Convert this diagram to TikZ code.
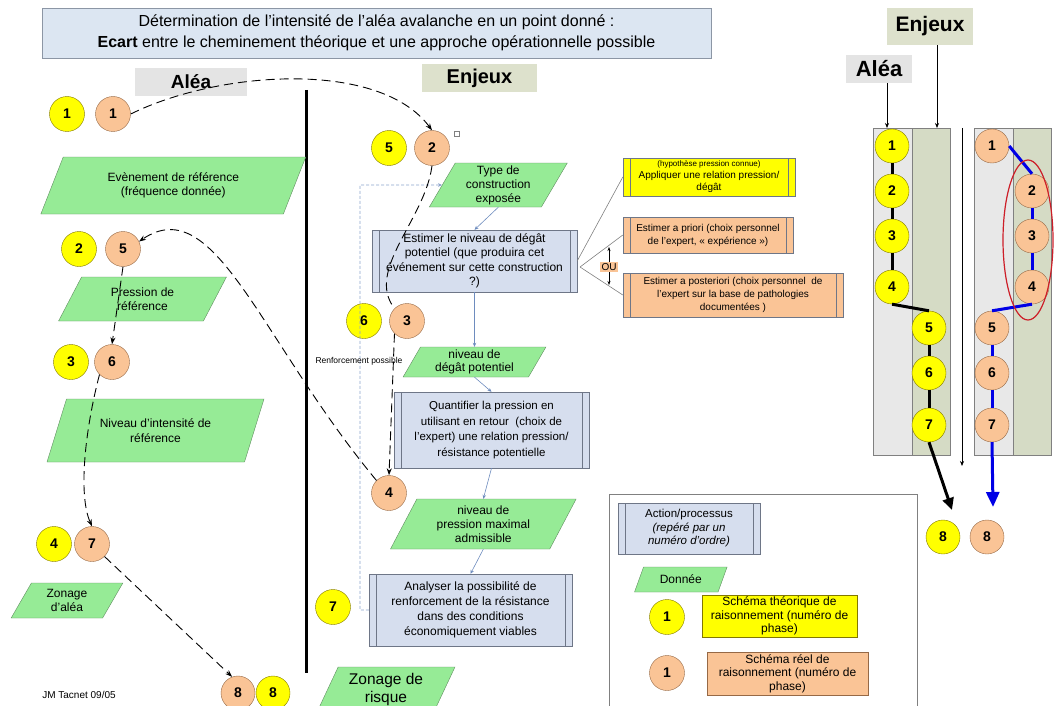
\documentclass[tikz,border=0pt]{standalone}
\usepackage{fontspec}
\setmainfont{Liberation Sans}
\usetikzlibrary{shapes.geometric,arrows.meta}

\definecolor{greenfill}{RGB}{150,235,150}
\definecolor{greenline}{RGB}{95,140,95}
\definecolor{procfill}{RGB}{214,222,238}
\definecolor{procline}{RGB}{110,118,135}
\definecolor{yel}{RGB}{255,255,0}
\definecolor{yelline}{RGB}{130,120,0}
\definecolor{org}{RGB}{250,196,150}
\definecolor{orgline}{RGB}{150,105,70}
\definecolor{titlefill}{RGB}{220,230,242}
\definecolor{titleline}{RGB}{140,150,165}
\definecolor{aleafill}{RGB}{228,228,228}
\definecolor{enjfill}{RGB}{221,225,204}
\definecolor{panL}{RGB}{232,232,232}
\definecolor{panR}{RGB}{213,219,197}
\definecolor{flowblue}{RGB}{110,140,190}
\definecolor{redell}{RGB}{205,30,40}
\definecolor{bleu}{RGB}{0,0,230}

\tikzset{
 titre/.style={draw=titleline, fill=titlefill, minimum width=669, minimum height=50,
   align=center, font=\fontsize{16}{21}\selectfont},
 label/.style={font=\bfseries\fontsize{19}{19}\selectfont, inner sep=0pt},
 donnee/.style={trapezium, trapezium left angle=64, trapezium right angle=116,
   trapezium stretches=true, draw=greenline, fill=greenfill, align=center,
   inner sep=1pt, font=\fontsize{12}{14.5}\selectfont},
 action/.style={rectangle, draw=procline, fill=procfill, align=center, inner sep=1pt,
   font=\fontsize{12}{15}\selectfont,
   path picture={\draw[procline]
     ([xshift=7pt]path picture bounding box.north west) -- ([xshift=7pt]path picture bounding box.south west)
     ([xshift=-7pt]path picture bounding box.north east) -- ([xshift=-7pt]path picture bounding box.south east);}},
 ycirc/.style={circle, draw=yelline, fill=yel, minimum size=35, inner sep=0pt,
   font=\bfseries\fontsize{14}{14}\selectfont},
 ocirc/.style={circle, draw=orgline, fill=org, minimum size=35, inner sep=0pt,
   font=\bfseries\fontsize{14}{14}\selectfont},
 dcurve/.style={line width=0.9pt, dash pattern=on 9pt off 5pt},
 dtip/.style={-{Stealth[length=7pt,width=5pt]}},
 flow/.style={flowblue, line width=0.6pt, -{Stealth[length=4pt,width=3.5pt]}},
 fanline/.style={gray, line width=0.6pt},
 thinarr/.style={line width=0.6pt, -{Stealth[length=5pt,width=4pt]}},
 chain/.style={line width=3pt},
}

\begin{document}
\begin{tikzpicture}[x=1pt,y=-1pt]
\useasboundingbox (0,0) rectangle (1054,706);

\node[titre] (titre) at (376.5,33) {D\'etermination de l'intensit\'e de l'al\'ea avalanche en un point donn\'e :\\\textbf{Ecart} entre le cheminement th\'eorique et une approche op\'erationnelle possible};

\node[label, fill=aleafill, minimum width=112, minimum height=28] (aleaL) at (191,82) {Aléa};
\node[label, fill=enjfill, minimum width=115, minimum height=28, font=\bfseries\fontsize{20}{20}\selectfont] (enjL) at (479.5,78) {Enjeux};

% separation Aléa / Enjeux
\coordinate (sepT) at (306,90);
\coordinate (sepB) at (306,673);
\draw[line width=3pt] (sepT) -- (sepB);

% colonne aléa
\node[ycirc] (y1) at (67,114) {1};
\node[ocirc] (o1) at (113,114) {1};
\node[donnee, minimum width=265, minimum height=57] (evt) at (173.3,185.5) {Evènement de référence\\(fréquence donnée)};
\node[ycirc] (y2) at (79,249) {2};
\node[ocirc] (o5) at (123,249) {5};
\node[donnee, minimum width=168, minimum height=44] (pres) at (142.5,299) {Pression de\\référence};
\node[ycirc] (y3) at (71,362) {3};
\node[ocirc] (o6) at (112,362) {6};
\node[donnee, minimum width=217, minimum height=63] (niv) at (155.5,430.5) {Niveau d'intensité de\\référence};
\node[ycirc] (y4) at (54,544) {4};
\node[ocirc] (o7) at (92,544) {7};
\node[donnee, minimum width=112, minimum height=35] (zal) at (67,600.5) {Zonage\\d'aléa};
\node[font=\fontsize{10}{10}\selectfont] (auteur) at (79,695) {JM Tacnet 09/05};
\node[ocirc, minimum size=34] (o8) at (238,693) {8};
\node[ycirc, minimum size=34] (y8) at (273,693) {8};

% colonne enjeux
\node[ycirc] (y5) at (389,148) {5};
\node[ocirc] (o2) at (432,148) {2};
\node[draw=gray, minimum size=5, inner sep=0pt, line width=0.4pt] (carre) at (457,134) {};
\node[donnee, minimum width=138, minimum height=44, font=\fontsize{12}{14}\selectfont] (type) at (498.3,185) {Type de\\construction\\exposée};
\node[action, minimum width=205, minimum height=62, font=\fontsize{12}{14.5}\selectfont] (est) at (474.5,261) {Estimer le niveau de dégât\\potentiel (que produira cet\\événement sur cette construction\\?)};
\node[ycirc] (y6) at (364,321) {6};
\node[ocirc] (o3) at (407,321) {3};
\node[donnee, minimum width=143, minimum height=30, font=\fontsize{12}{13.5}\selectfont] (deg) at (474.5,362) {niveau de\\dégât potentiel};
\node[action, minimum width=195, minimum height=76, font=\fontsize{11.5}{15.5}\selectfont] (quant) at (491.5,430) {Quantifier la pression en\\utilisant en retour ~(choix de\\l'expert) une relation pression/\\résistance potentielle};
\node[ocirc] (o4) at (389,493) {4};
\node[donnee, minimum width=186, minimum height=50, font=\fontsize{12}{14}\selectfont] (pmax) at (483.3,524) {niveau de\\pression maximal\\admissible};
\node[action, minimum width=203, minimum height=72] (anal) at (470.5,610) {Analyser la possibilité de\\renforcement de la résistance\\dans des conditions\\économiquement viables};
\node[ycirc] (y7) at (333,607) {7};
\node[donnee, minimum width=138, minimum height=45, font=\fontsize{15.5}{18}\selectfont] (zrisk) at (386,689.5) {Zonage de\\risque};

\draw[flow] (type.south) -- (est.north);
\draw[flow] (est.south) -- (deg.north);
\draw[flow] (deg.south) -- (quant.north);
\draw[flow] (quant.south) -- (pmax.north);
\draw[flow] (pmax.south) -- (anal.north);

% boucle de renforcement
\coordinate (rfB) at (360,610);
\coordinate (rfT) at (360,185);
\draw[flowblue!80, line width=0.6pt, dash pattern=on 3pt off 2pt, -{Stealth[length=4pt,width=3.5pt]}] (anal.west) -- (rfB) -- (rfT) -- (type.west);
\node[font=\fontsize{8.5}{8.5}\selectfont, inner sep=0pt] (renf) at (359,361) {Renforcement possible};

% choix de la méthode
\node[action, fill=yel, minimum width=172, minimum height=38, font=\fontsize{10}{12}\selectfont] (ybox) at (709,177) {{\fontsize{8}{9}\selectfont(hypothèse pression connue)}\\Appliquer une relation pression/\\dégât};
\node[action, fill=org, minimum width=170, minimum height=36, font=\fontsize{10}{13}\selectfont] (obox1) at (708,235) {Estimer a priori (choix personnel\\de l'expert, « expérience »)};
\node[action, fill=org, minimum width=220, minimum height=44, font=\fontsize{10}{13}\selectfont] (obox2) at (733,295) {Estimer a posteriori (choix personnel ~de\\l'expert sur la base de pathologies\\documentées )};
\coordinate (fan) at (580,267);
\draw[fanline] (est.east) -- (ybox.west);
\draw[fanline] (fan) -- (obox1.west);
\draw[fanline] (fan) -- (obox2.west);
\coordinate (ouT) at (609,247);
\coordinate (ouB) at (609,285);
\draw[line width=0.5pt, {Stealth[length=4pt,width=3pt]}-{Stealth[length=4pt,width=3pt]}] (ouT) -- (ouB);
\node[fill=org, inner sep=1.5pt, font=\fontsize{10}{10}\selectfont] (ou) at (609,267) {OU};

% cheminement réel
\draw[dcurve, dtip] (o1.east) .. controls (220,70) and (380,60) .. (o2.north);
\draw[dcurve] (o2.south) .. controls (425,220) and (365,270) .. (o3.north west);
\draw[dcurve, dtip] (o3.south west) -- (o4.north);
\draw[dcurve, dtip] (o4.north west) .. controls (260,340) and (215,190) .. (o5.25);
\draw[dcurve, dtip] (o5.south) -- (o6.north);
\draw[dcurve, dtip] (o6.south west) .. controls (85,430) and (78,495) .. (o7.north);
\draw[dcurve, dtip] (o7.south east) -- (o8.110);

% légende
\node[draw=gray, minimum width=308, minimum height=232, anchor=north west] (legende) at (609,494) {};
\node[action, minimum width=142, minimum height=51, font=\fontsize{11.5}{13.5}\selectfont] (lproc) at (689,528.5) {Action/processus\\\textit{(repéré par un}\\\textit{numéro d'ordre)}};
\node[donnee, minimum width=93, minimum height=25] (ldon) at (680.8,579.5) {Donnée};
\node[ycirc] (ly) at (667,617) {1};
\node[draw=yelline, fill=yel, minimum width=155, minimum height=42, align=center, inner sep=1pt, font=\fontsize{12}{13.5}\selectfont] (lybox) at (779.5,616) {Schéma théorique de\\raisonnement (numéro de\\phase)};
\node[ocirc] (lo) at (667,673) {1};
\node[draw=orgline, fill=org, minimum width=161, minimum height=43, align=center, inner sep=1pt, font=\fontsize{12}{13.5}\selectfont] (lobox) at (787.5,673.5) {Schéma réel de\\raisonnement (numéro de\\phase)};

% schémas comparés
\node[label, fill=enjfill, minimum width=86, minimum height=37, font=\bfseries\fontsize{21}{21}\selectfont] (enjR) at (930,26.5) {Enjeux};
\node[label, fill=aleafill, minimum width=66, minimum height=28, font=\bfseries\fontsize{22}{22}\selectfont] (aleaR) at (879,69) {Aléa};
\draw[draw=gray, fill=panL] (873,128) rectangle (912,455);
\draw[draw=gray, fill=panR] (912,128) rectangle (950,455);
\draw[draw=gray, fill=panL] (974,128) rectangle (1013,455);
\draw[draw=gray, fill=panR] (1013,128) rectangle (1051,455);
\coordinate (inA) at (887,128);
\coordinate (inE) at (937,128);
\draw[thinarr] (aleaR.south -| inA) -- (inA);
\draw[thinarr] (enjR.south -| inE) -- (inE);
\coordinate (midT) at (962,128);
\coordinate (midB) at (962,466);
\draw[thinarr] (midT) -- (midB);

\node[ycirc, minimum size=34] (ya1) at (892,146) {1};
\node[ycirc, minimum size=34] (ya2) at (892,191) {2};
\node[ycirc, minimum size=34] (ya3) at (892,236) {3};
\node[ycirc, minimum size=34] (ya4) at (892,287) {4};
\node[ycirc, minimum size=34] (ya5) at (929,328) {5};
\node[ycirc, minimum size=34] (ya6) at (929,373) {6};
\node[ycirc, minimum size=34] (ya7) at (929,425) {7};
\node[ycirc, minimum size=34] (ya8) at (943,537) {8};

\node[ocirc, minimum size=34] (oa1) at (992,146) {1};
\node[ocirc, minimum size=34] (oa2) at (1032,191) {2};
\node[ocirc, minimum size=34] (oa3) at (1032,236) {3};
\node[ocirc, minimum size=34] (oa4) at (1032,287) {4};
\node[ocirc, minimum size=34] (oa5) at (992,328) {5};
\node[ocirc, minimum size=34] (oa6) at (992,373) {6};
\node[ocirc, minimum size=34] (oa7) at (992,425) {7};
\node[ocirc, minimum size=34] (oa8) at (987,537) {8};

\draw[chain] (ya1) -- (ya2) -- (ya3) -- (ya4);
\draw[chain] (ya4.south) -- (ya5.north);
\draw[chain] (ya5) -- (ya6) -- (ya7);
\coordinate (noirFin) at (952,510);
\draw[chain, -{Triangle[length=12pt,width=11pt]}] (ya7.south) -- (noirFin);

\draw[chain, bleu] (oa1.east) -- (oa2.north);
\draw[chain, bleu] (oa2) -- (oa3) -- (oa4);
\draw[chain, bleu] (oa4.south) -- (oa5.north);
\draw[chain, bleu] (oa5) -- (oa6) -- (oa7);
\coordinate (bleuFin) at (993,507);
\draw[chain, bleu, -{Triangle[length=15pt,width=13pt]}] (oa7.south) -- (bleuFin);

\draw[redell, line width=1.2pt] (1028,240) ellipse (25 and 80);

\end{tikzpicture}
\end{document}
